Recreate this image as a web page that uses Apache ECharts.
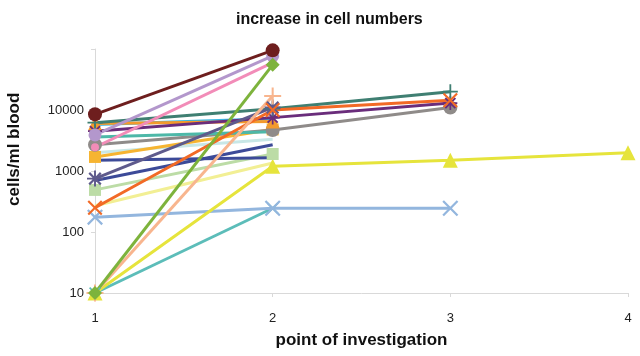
<!DOCTYPE html>
<html>
<head>
<meta charset="utf-8">
<script src="https://cdn.jsdelivr.net/npm/echarts@6/dist/echarts.min.js"></script>
<style>
  html, body { margin: 0; padding: 0; background: #fff; }
  #chart { width: 640px; height: 356px; }
</style>
</head>
<body>
<div id="chart"></div>
<script>
// point of investigation
var points = [1, 2, 3, 4];
var yTicks = [10, 100, 1000, 10000];

// cells/ml blood per patient
var lightBlue = [175, 245, 245];
var tealLow = [10, 245];
var yellow = [10, 1200, 1500, 2000];
var paleYellow = [270, 1350];
var lightGreen = [490, 1900];
var navyFlat = [1500, 1650];
var navyUp = [700, 2700];
var paleCyan = [2000, 3300];
var goldSq = [1700, 4800];
var grayCirc = [2700, 4700, 11000];
var tealMid = [3600, 4400];
var cyan = [5800, 7200];
var orangeTri = [6000, 6500];
var purple = [4500, 7500, 13000];
var darkTeal = [6200, 10500, 20000];
var orangeX = [250, 10000, 14500];
var slate = [750, 11000];
var peach = [10, 17000];
var green = [10, 55000];
var pink = [2450, 60000];
var lavender = [3900, 77000];
var brown = [8500, 95000];

var X = 'path://M1,0 L5,4 L9,0 L10,1 L6,5 L10,9 L9,10 L5,6 L1,10 L0,9 L4,5 L0,1 Z';
var PLUS = 'path://M4.4,0 H5.6 V4.4 H10 V5.6 H5.6 V10 H4.4 V5.6 H0 V4.4 H4.4 Z';
var STAR = 'path://M4.4,0 H5.6 V3.5 L8.1,0.9 L9.1,1.9 L6.5,4.4 H10 V5.6 H6.5 L9.1,8.1 L8.1,9.1 L5.6,6.5 V10 H4.4 V6.5 L1.9,9.1 L0.9,8.1 L3.5,5.6 H0 V4.4 H3.5 L0.9,1.9 L1.9,0.9 L4.4,3.5 Z';

function mk(vals, color, symbol, size) {
    return {
        type: 'line',
        data: vals.map(function (v, i) { return [points[i], v]; }),
        symbol: symbol || 'none',
        symbolSize: size || 12,
        showSymbol: !!symbol,
        lineStyle: { color: color, width: 3 },
        itemStyle: { color: color, borderWidth: 0 },
        emphasis: { disabled: true },
        animation: false
    };
}

var myChart = echarts.init(document.getElementById('chart'));

var option = {
    title: {
        text: 'increase in cell numbers',
        left: 231,
        top: 7,
        textStyle: { fontFamily: 'Liberation Sans', fontSize: 16, fontWeight: 'bold', color: '#111' }
    },
    grid: { left: 95, right: 12, top: 49, bottom: 63 },
    xAxis: {
        type: 'value',
        min: 1,
        max: 4,
        interval: 1,
        name: 'point of investigation',
        nameLocation: 'middle',
        nameGap: 39,
        nameTextStyle: { fontFamily: 'Liberation Sans', fontSize: 17, fontWeight: 'bold', color: '#111' },
        axisLine: { lineStyle: { color: '#d9d9d9', width: 1 } },
        axisTick: { show: true, length: 4, lineStyle: { color: '#d9d9d9' } },
        splitLine: { show: false },
        axisLabel: { margin: 19, fontFamily: 'Liberation Sans', fontSize: 13, color: '#222' }
    },
    yAxis: {
        type: 'log',
        logBase: 10,
        min: 10,
        max: 100000,
        axisLine: { show: true, lineStyle: { color: '#d9d9d9', width: 1 } },
        axisTick: { show: true, length: 4, lineStyle: { color: '#d9d9d9' } },
        splitLine: { show: false },
        axisLabel: {
            margin: 11,
            fontFamily: 'Liberation Sans',
            fontSize: 13,
            color: '#222',
            formatter: function (v) { return yTicks.indexOf(v) >= 0 ? String(v) : ''; }
        }
    },
    graphic: [{
        type: 'text',
        x: 6,
        y: 206,
        rotation: Math.PI / 2,
        style: {
            text: 'cells/ml blood',
            font: 'bold 17px "Liberation Sans"',
            fill: '#111'
        }
    }],
    series: [
        mk(tealLow, '#5cbdb9', X, 12),
        mk(lightBlue, '#93b6de', X, 16),
        mk(yellow, '#e6e43c', 'triangle', 15),
        mk(paleYellow, '#f2ef94'),
        mk(lightGreen, '#bcdca6', 'rect', 12),
        mk(navyUp, '#3c4a98'),
        mk(navyFlat, '#3c4a98'),
        mk(paleCyan, '#c8e7e6'),
        mk(goldSq, '#f6b431', 'rect', 12),
        mk(grayCirc, '#8f8b89', 'circle', 14),
        mk(tealMid, '#4db8a8'),
        mk(cyan, '#3bb5e0'),
        mk(orangeTri, '#f39a2c', 'triangle', 14),
        mk(purple, '#6a2d7b', STAR, 14),
        mk(darkTeal, '#3f7f72', PLUS, 15),
        mk(slate, '#5e5a8c', STAR, 16),
        mk(orangeX, '#f26a26', X, 15),
        mk(peach, '#f8b58e', PLUS, 17),
        mk(pink, '#f28cb8', 'circle', 8),
        mk(lavender, '#b397cc', 'circle', 13),
        mk(green, '#7db33c', 'diamond', 14),
        mk(brown, '#6e1e1e', 'circle', 14)
    ]
};

myChart.setOption(option);
window.addEventListener('resize', function () {
    myChart.resize();
});
</script>
</body>
</html>
